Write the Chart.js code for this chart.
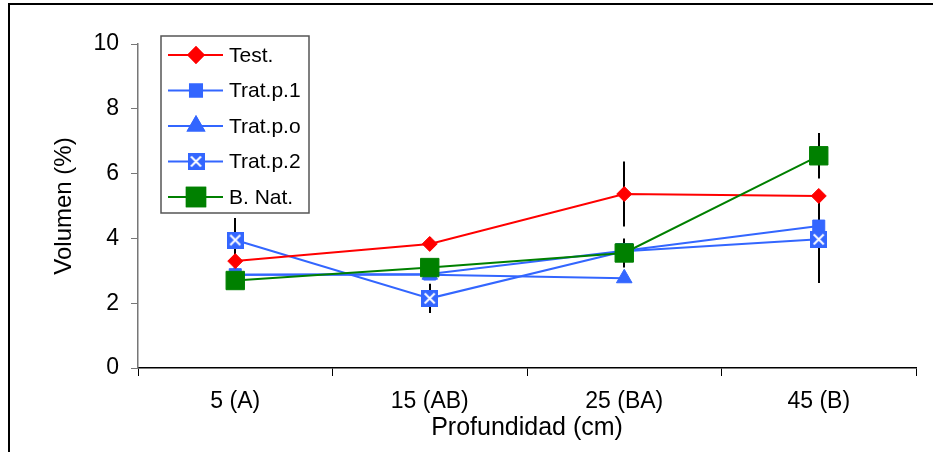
<!DOCTYPE html>
<html>
<head>
<meta charset="utf-8">
<script src="https://cdn.jsdelivr.net/npm/chart.js@4/dist/chart.umd.min.js"></script>
<style>
  html, body { margin: 0; padding: 0; background: #fff; }
  #wrap { position: relative; width: 933px; height: 452px; }
</style>
</head>
<body>
<div id="wrap"><canvas id="myChart" width="933" height="452"></canvas></div>
<script>
// datos
const categorias = ['5 (A)', '15 (AB)', '25 (BA)', '45 (B)'];
const nombres = ['Test.', 'Trat.p.1', 'Trat.p.o', 'Trat.p.2', 'B. Nat.'];
const test = [3.30, 3.83, 5.37, 5.31];
const tratP1 = [2.88, 2.90, 3.62, 4.38];
const tratPo = [2.88, 2.88, 2.77, null];
const tratP2 = [3.95, 2.15, 3.60, 3.97];
const bNat = [2.70, 3.10, 3.55, 6.55];
// barras de error (+/-)
const errTest = [null, 0.21, 1.0, null];
const errP2 = [0.68, 0.45, null, 1.35];
const errNat = [null, null, 0.45, 0.7];
const yTicks = [0, 2, 4, 6, 8, 10];

const rojo = '#ff0000', azul = '#3366ff', verde = '#008000';
const fuente = "'Liberation Sans', Arial, sans-serif";

// marcador cuadrado azul con X blanca
function cajaX(s) {
  let c = document.createElement('canvas');
  c.width = s; c.height = s;
  let g = c.getContext('2d');
  g.fillStyle = azul;
  g.fillRect(0, 0, s, s);
  g.strokeStyle = '#fff';
  g.lineWidth = 2;
  g.beginPath();
  g.moveTo(3.5, 3.5); g.lineTo(s - 3.5, s - 3.5);
  g.moveTo(s - 3.5, 3.5); g.lineTo(3.5, s - 3.5);
  g.stroke();
  return c;
}
const marcaX = cajaX(17);

const errores = {
  id: 'errores',
  beforeDatasetsDraw(chart) {
    const ctx = chart.ctx, ys = chart.scales.y, xs = chart.scales.x;
    const series = [[test, errTest], [tratP2, errP2], [bNat, errNat]];
    ctx.save();
    ctx.strokeStyle = '#000';
    ctx.lineWidth = 2;
    series.forEach(function(s){
      s[1].forEach(function(e, i){
        if (e == null || s[0][i] == null) return;
        let x = Math.round(xs.getPixelForValue(i));
        ctx.beginPath();
        ctx.moveTo(x, ys.getPixelForValue(s[0][i] + e));
        ctx.lineTo(x, ys.getPixelForValue(s[0][i] - e));
        ctx.stroke();
      });
    });
    ctx.restore();
  }
};

const leyendaYMarco = {
  id: 'leyendaYMarco',
  afterDraw(chart) {
    const ctx = chart.ctx;
    ctx.save();
    // marco exterior
    ctx.fillStyle = '#000';
    ctx.fillRect(8, 3, 933, 2);
    ctx.fillRect(8, 3, 2, 452);
    // caja de leyenda
    let bx = 161, by = 36, bw = 148, bh = 177;
    ctx.fillStyle = '#fff';
    ctx.fillRect(bx, by, bw, bh);
    ctx.strokeStyle = '#555';
    ctx.lineWidth = 1.5;
    ctx.strokeRect(bx, by, bw, bh);
    ctx.font = '21px ' + fuente;
    ctx.textBaseline = 'middle';
    chart.data.datasets.forEach(function(ds, i){
      let y = 55 + i * 35.5;
      ctx.strokeStyle = ds.borderColor;
      ctx.lineWidth = 2;
      ctx.beginPath();
      ctx.moveTo(168, y); ctx.lineTo(223, y);
      ctx.stroke();
      let ps = ds.pointStyle;
      if (ps instanceof HTMLCanvasElement) {
        ctx.drawImage(ps, 196 - ps.width / 2, y - ps.height / 2);
      } else {
        Chart.helpers.drawPoint(ctx, {
          pointStyle: ps, radius: ds.pointRadius, rotation: 0, borderWidth: 1
        }, 196, y);
        ctx.fillStyle = ds.pointBackgroundColor;
        ctx.strokeStyle = ds.pointBorderColor;
        ctx.fill();
        ctx.stroke();
      }
      ctx.fillStyle = '#000';
      ctx.textAlign = 'left';
      ctx.fillText(ds.label, 229, y + 1);
    });
    ctx.restore();
  }
};

function serie(label, data, color, estilo, radio, orden) {
  return {
    label: label,
    data: data,
    order: orden,
    borderColor: color,
    backgroundColor: color,
    pointBackgroundColor: color,
    pointBorderColor: color,
    borderWidth: 2,
    pointStyle: estilo,
    pointRadius: radio,
    pointHoverRadius: radio,
    pointBorderWidth: 1,
    tension: 0,
    spanGaps: false
  };
}

var ctx = document.getElementById('myChart').getContext('2d');
var myChart = new Chart(ctx, {
  type: 'line',
  data: {
    labels: categorias,
    datasets: [
      serie(nombres[0], test, rojo, 'rectRot', 7.5, 1),
      serie(nombres[1], tratP1, azul, 'rect', 8.5, 3),
      serie(nombres[2], tratPo, azul, 'triangle', 9, 4),
      serie(nombres[3], tratP2, azul, marcaX, 8, 2),
      serie(nombres[4], bNat, verde, 'rect', 13, 0)
    ]
  },
  options: {
    responsive: false,
    animation: false,
    events: [],
    layout: { padding: { top: 44, right: 17, bottom: 0, left: 0 } },
    plugins: { legend: { display: false }, tooltip: { enabled: false } },
    scales: {
      x: {
        offset: true,
        grid: { offset: true, drawOnChartArea: false, drawTicks: true, tickLength: 8, color: '#000', lineWidth: 1 },
        border: { display: true, color: '#000', width: 1.5 },
        ticks: { color: '#000', font: { family: fuente, size: 23 }, padding: 12, maxRotation: 0 },
        title: { display: true, text: 'Profundidad (cm)', color: '#000', font: { family: fuente, size: 25 }, padding: { top: 9, bottom: 9 } },
        afterFit(scale) { scale.height = 452 - 368; }
      },
      y: {
        min: 0, max: 10,
        afterBuildTicks(scale) { scale.ticks = yTicks.map(v => ({ value: v })); },
        grid: { drawOnChartArea: false, drawTicks: true, tickLength: 7, color: '#777', lineWidth: 1 },
        border: { display: true, color: '#777', width: 1.5 },
        ticks: { color: '#000', font: { family: fuente, size: 23 }, padding: 12 },
        title: { display: true, text: 'Volumen (%)', color: '#000', font: { family: fuente, size: 24 }, padding: { top: 50, bottom: 0 } },
        afterFit(scale) { scale.width = 138; }
      }
    }
  },
  plugins: [errores, leyendaYMarco]
});
</script>
</body>
</html>
